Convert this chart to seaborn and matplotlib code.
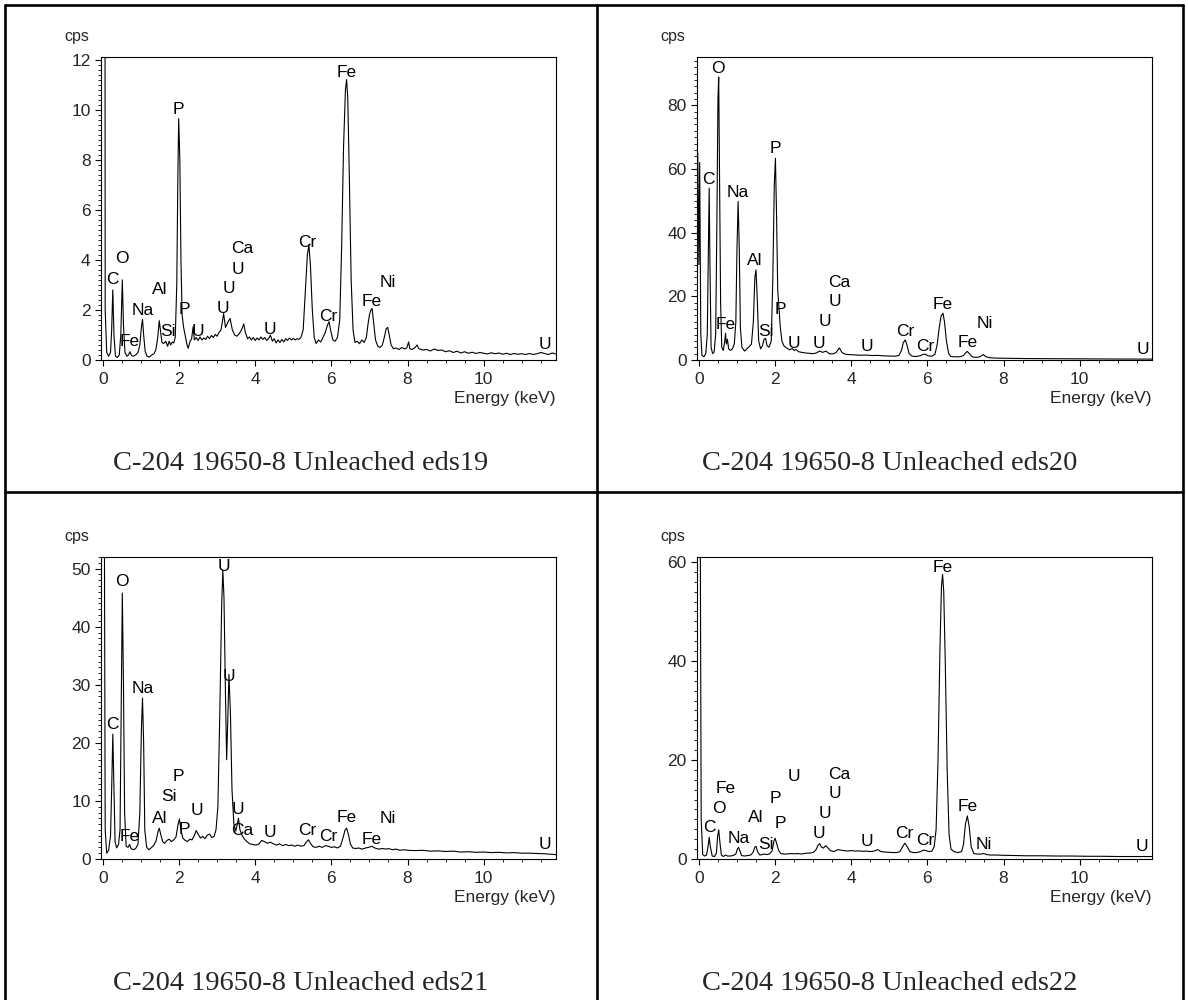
import matplotlib
matplotlib.use('Agg')
import matplotlib.pyplot as plt
import seaborn as sns
import pandas as pd
from matplotlib.lines import Line2D
from matplotlib.ticker import MultipleLocator

# spectra: (energy keV, cps)
spec19 = [
    (-0.05, 0.5), (-0.035, 60), (0.04, 60), (0.06, 2.0), (0.1, 0.3), (0.15, 0.15), (0.2, 0.3),
    (0.23, 1.2), (0.26, 2.8), (0.29, 1.0), (0.33, 0.15), (0.38, 0.1), (0.43, 0.2), (0.47, 1.0),
    (0.51, 3.2), (0.54, 1.4), (0.58, 0.3), (0.63, 0.15), (0.67, 0.2), (0.71, 0.33), (0.75, 0.18),
    (0.8, 0.15), (0.86, 0.2), (0.92, 0.3), (0.97, 0.6), (1.01, 1.3), (1.04, 1.62), (1.07, 1.0),
    (1.11, 0.35), (1.16, 0.15), (1.22, 0.12), (1.28, 0.2), (1.34, 0.25), (1.39, 0.4), (1.44, 0.9),
    (1.48, 1.57), (1.51, 1.2), (1.55, 0.7), (1.6, 0.66), (1.65, 0.75), (1.7, 0.55), (1.74, 0.75),
    (1.78, 0.6), (1.82, 0.72), (1.86, 0.68), (1.9, 0.9), (1.94, 3.0), (1.97, 7.5), (1.99, 9.64),
    (2.02, 8.0), (2.05, 4.0), (2.08, 1.8), (2.12, 1.3), (2.17, 0.9), (2.21, 0.6), (2.24, 0.47),
    (2.29, 0.75), (2.33, 0.85), (2.37, 1.33), (2.4, 0.8), (2.45, 0.9), (2.5, 0.78), (2.55, 0.92),
    (2.6, 0.8), (2.65, 0.88), (2.7, 0.82), (2.75, 0.95), (2.8, 0.85), (2.85, 0.98), (2.9, 0.9),
    (2.95, 1.02), (3.0, 0.95), (3.05, 1.1), (3.1, 1.2), (3.13, 1.45), (3.17, 1.86), (3.22, 1.3),
    (3.28, 1.5), (3.34, 1.66), (3.4, 1.2), (3.46, 1.0), (3.52, 0.95), (3.58, 1.05), (3.64, 1.2),
    (3.7, 1.44), (3.74, 1.1), (3.8, 0.85), (3.85, 0.92), (3.9, 0.8), (3.95, 0.9), (4.0, 0.78),
    (4.05, 0.88), (4.1, 0.8), (4.15, 0.92), (4.2, 0.82), (4.25, 0.9), (4.3, 0.78), (4.35, 0.85),
    (4.4, 1.0), (4.45, 0.75), (4.5, 0.85), (4.55, 0.68), (4.6, 0.8), (4.65, 0.7), (4.7, 0.82),
    (4.75, 0.72), (4.8, 0.85), (4.85, 0.78), (4.9, 0.88), (4.95, 0.8), (5.0, 0.86), (5.05, 0.8),
    (5.1, 0.85), (5.15, 0.82), (5.2, 0.9), (5.26, 1.2), (5.32, 2.8), (5.37, 4.2), (5.41, 4.6),
    (5.45, 3.8), (5.5, 2.0), (5.55, 0.9), (5.6, 0.66), (5.66, 0.8), (5.72, 0.72), (5.78, 0.9),
    (5.84, 1.1), (5.9, 1.4), (5.94, 1.53), (5.98, 1.2), (6.04, 0.8), (6.1, 0.75), (6.16, 0.9),
    (6.22, 1.6), (6.27, 4.5), (6.32, 8.5), (6.37, 10.8), (6.4, 11.2), (6.43, 10.5), (6.47, 7.5),
    (6.52, 3.2), (6.57, 1.2), (6.62, 0.7), (6.68, 0.75), (6.74, 0.65), (6.8, 0.8), (6.86, 0.7),
    (6.92, 0.9), (6.96, 1.4), (7.0, 1.8), (7.04, 2.0), (7.07, 2.06), (7.11, 1.5), (7.16, 0.8),
    (7.22, 0.55), (7.28, 0.5), (7.34, 0.6), (7.39, 0.9), (7.44, 1.25), (7.48, 1.3), (7.52, 1.0),
    (7.57, 0.6), (7.63, 0.45), (7.7, 0.48), (7.78, 0.42), (7.85, 0.5), (7.92, 0.44), (7.98, 0.48),
    (8.03, 0.72), (8.06, 0.45), (8.12, 0.42), (8.2, 0.5), (8.25, 0.6), (8.3, 0.45), (8.4, 0.4),
    (8.5, 0.42), (8.6, 0.36), (8.7, 0.44), (8.8, 0.38), (8.9, 0.4), (9.0, 0.33), (9.1, 0.37),
    (9.2, 0.3), (9.3, 0.35), (9.4, 0.28), (9.5, 0.33), (9.6, 0.27), (9.7, 0.31), (9.8, 0.26),
    (9.9, 0.3), (10.0, 0.27), (10.1, 0.24), (10.2, 0.29), (10.3, 0.25), (10.4, 0.28), (10.5, 0.23),
    (10.6, 0.27), (10.7, 0.22), (10.8, 0.26), (10.9, 0.23), (11.0, 0.25), (11.1, 0.22), (11.2, 0.26),
    (11.3, 0.22), (11.4, 0.25), (11.5, 0.3), (11.6, 0.26), (11.7, 0.22), (11.8, 0.28), (11.9, 0.24),
]

spec20 = [
    (-0.05, 8), (-0.03, 65), (0.0, 30), (0.02, 62), (0.05, 8), (0.08, 1.5), (0.13, 1.0), (0.18, 2),
    (0.22, 8), (0.25, 35), (0.27, 54), (0.29, 30), (0.32, 4), (0.36, 2), (0.4, 2.5), (0.44, 8),
    (0.47, 40), (0.5, 82), (0.52, 88.9), (0.54, 60), (0.57, 18), (0.6, 4), (0.64, 3), (0.68, 6),
    (0.7, 8.4), (0.72, 5), (0.75, 6.5), (0.78, 3.5), (0.83, 3), (0.88, 3.5), (0.93, 5), (0.97, 12),
    (1.0, 35), (1.03, 49.8), (1.06, 35), (1.09, 10), (1.13, 4), (1.2, 2.8), (1.26, 3.5), (1.32, 4.2),
    (1.38, 5), (1.43, 12), (1.47, 26), (1.5, 28.3), (1.53, 20), (1.57, 6), (1.62, 3.5), (1.67, 4.5),
    (1.71, 6.5), (1.75, 6.8), (1.79, 4.5), (1.84, 4), (1.9, 6), (1.94, 25), (1.98, 55), (2.01, 63.4),
    (2.04, 45), (2.07, 22), (2.1, 17), (2.14, 10), (2.18, 6), (2.23, 4.5), (2.3, 3.8), (2.38, 3.2),
    (2.45, 3.6), (2.5, 3.0), (2.55, 3.3), (2.62, 2.6), (2.7, 2.4), (2.8, 2.2), (2.9, 2.1), (3.0, 2.0),
    (3.08, 2.2), (3.17, 2.8), (3.25, 2.4), (3.34, 2.8), (3.42, 2.0), (3.5, 1.9), (3.6, 2.3),
    (3.69, 3.8), (3.76, 2.3), (3.85, 1.8), (3.95, 1.7), (4.1, 1.6), (4.25, 1.5), (4.4, 1.55),
    (4.55, 1.4), (4.7, 1.45), (4.85, 1.3), (5.0, 1.25), (5.15, 1.2), (5.25, 1.4), (5.32, 3.0),
    (5.37, 5.5), (5.42, 6.3), (5.47, 4.5), (5.52, 2.0), (5.6, 1.2), (5.7, 1.1), (5.8, 1.3),
    (5.9, 1.8), (5.95, 1.8), (6.02, 1.3), (6.12, 1.2), (6.2, 1.8), (6.26, 5), (6.31, 10),
    (6.36, 13.8), (6.41, 14.7), (6.45, 12), (6.5, 6), (6.56, 2), (6.62, 1.1), (6.72, 1.0),
    (6.85, 1.0), (6.95, 1.4), (7.0, 2.2), (7.05, 2.7), (7.1, 2.0), (7.18, 1.0), (7.28, 0.8),
    (7.38, 1.0), (7.47, 1.7), (7.54, 1.0), (7.65, 0.7), (7.8, 0.6), (8.0, 0.55), (8.3, 0.5),
    (8.6, 0.45), (9.0, 0.42), (9.4, 0.38), (9.8, 0.35), (10.2, 0.33), (10.6, 0.3), (11.0, 0.3),
    (11.4, 0.28), (11.9, 0.28),
]

spec21 = [
    (-0.05, 1), (-0.035, 80), (0.03, 80), (0.06, 5), (0.1, 1.0), (0.15, 1.5), (0.2, 4), (0.23, 12),
    (0.26, 21.5), (0.29, 12), (0.32, 3), (0.36, 1.9), (0.41, 2.5), (0.45, 5), (0.48, 25),
    (0.51, 45.8), (0.54, 30), (0.57, 8), (0.61, 2.2), (0.66, 2.0), (0.7, 2.5), (0.74, 1.8),
    (0.8, 1.6), (0.86, 1.8), (0.92, 2.5), (0.97, 8), (1.01, 22), (1.04, 27.7), (1.07, 20), (1.1, 5),
    (1.15, 2), (1.21, 1.6), (1.28, 2.0), (1.34, 2.4), (1.4, 3.2), (1.45, 4.8), (1.48, 5.3),
    (1.52, 4.2), (1.57, 3.0), (1.62, 2.7), (1.68, 3.2), (1.74, 3.4), (1.8, 3.0), (1.86, 3.3),
    (1.92, 3.8), (1.97, 5.8), (2.01, 6.9), (2.05, 5.0), (2.1, 3.6), (2.16, 3.2), (2.22, 3.0),
    (2.28, 3.4), (2.34, 3.3), (2.4, 4.0), (2.45, 4.9), (2.5, 4.3), (2.56, 3.6), (2.62, 3.9),
    (2.68, 3.5), (2.74, 4.1), (2.8, 4.3), (2.86, 3.7), (2.92, 3.9), (2.97, 5.0), (3.02, 9),
    (3.07, 25), (3.12, 44), (3.15, 49.7), (3.18, 45), (3.22, 28), (3.25, 17.1), (3.28, 24),
    (3.31, 31.8), (3.35, 25), (3.39, 12), (3.44, 6), (3.49, 4.8), (3.53, 6.0), (3.56, 7.0),
    (3.6, 5.0), (3.66, 4.0), (3.72, 3.4), (3.78, 3.0), (3.86, 2.6), (3.94, 2.5), (4.02, 2.4),
    (4.1, 2.6), (4.17, 3.2), (4.24, 3.0), (4.32, 2.7), (4.4, 2.9), (4.48, 2.6), (4.56, 2.4),
    (4.64, 2.6), (4.72, 2.3), (4.8, 2.5), (4.88, 2.3), (4.96, 2.4), (5.04, 2.2), (5.12, 2.4),
    (5.2, 2.2), (5.28, 2.3), (5.34, 2.9), (5.4, 3.3), (5.46, 2.6), (5.52, 2.1), (5.6, 2.0),
    (5.68, 2.2), (5.76, 2.0), (5.84, 2.3), (5.92, 2.2), (6.0, 2.0), (6.08, 2.1), (6.16, 1.9),
    (6.24, 2.2), (6.3, 3.5), (6.36, 5.0), (6.4, 5.3), (6.45, 4.2), (6.5, 2.6), (6.56, 1.9),
    (6.64, 1.8), (6.72, 1.9), (6.8, 1.7), (6.9, 1.9), (6.98, 2.0), (7.06, 2.2), (7.14, 1.9),
    (7.24, 1.7), (7.34, 1.8), (7.44, 1.7), (7.5, 1.8), (7.6, 1.6), (7.7, 1.7), (7.8, 1.5),
    (7.9, 1.6), (8.0, 1.5), (8.2, 1.45), (8.4, 1.5), (8.6, 1.35), (8.8, 1.4), (9.0, 1.3),
    (9.2, 1.35), (9.4, 1.2), (9.6, 1.25), (9.8, 1.15), (10.0, 1.2), (10.2, 1.1), (10.4, 1.15),
    (10.6, 1.05), (10.8, 1.1), (11.0, 1.0), (11.2, 1.0), (11.4, 0.95), (11.6, 0.9), (11.8, 0.8),
    (11.9, 0.75),
]

spec22 = [
    (-0.05, 1), (-0.035, 80), (0.03, 80), (0.06, 8), (0.1, 0.9), (0.15, 0.6), (0.2, 0.8),
    (0.24, 2.5), (0.27, 4.4), (0.3, 2.5), (0.35, 0.6), (0.41, 0.5), (0.46, 1.2), (0.49, 4.5),
    (0.52, 5.9), (0.55, 3.5), (0.59, 0.8), (0.64, 0.5), (0.7, 0.8), (0.75, 0.6), (0.82, 0.6),
    (0.9, 0.7), (0.97, 1.0), (1.01, 2.0), (1.04, 2.35), (1.07, 1.8), (1.12, 0.7), (1.2, 0.6),
    (1.28, 0.7), (1.36, 0.8), (1.42, 1.3), (1.47, 2.4), (1.5, 2.55), (1.54, 1.5), (1.6, 0.8),
    (1.66, 0.9), (1.72, 1.0), (1.78, 0.9), (1.85, 1.0), (1.92, 1.6), (1.97, 3.6), (2.0, 4.2),
    (2.04, 3.2), (2.09, 1.8), (2.15, 1.1), (2.22, 1.0), (2.3, 1.0), (2.4, 1.1), (2.5, 1.05),
    (2.6, 1.1), (2.7, 1.0), (2.8, 1.15), (2.9, 1.2), (3.0, 1.3), (3.07, 1.8), (3.13, 2.8),
    (3.17, 3.1), (3.22, 2.4), (3.27, 2.2), (3.33, 2.7), (3.38, 2.3), (3.45, 1.7), (3.55, 1.5),
    (3.65, 1.9), (3.72, 1.8), (3.8, 1.7), (3.9, 1.6), (4.0, 1.7), (4.1, 1.6), (4.2, 1.65),
    (4.3, 1.55), (4.4, 1.6), (4.5, 1.5), (4.6, 1.6), (4.7, 1.9), (4.78, 1.5), (4.9, 1.4),
    (5.0, 1.35), (5.1, 1.3), (5.2, 1.3), (5.28, 1.5), (5.35, 2.5), (5.41, 3.2), (5.47, 2.5),
    (5.54, 1.5), (5.62, 1.3), (5.72, 1.3), (5.82, 1.5), (5.9, 1.8), (5.96, 1.7), (6.04, 1.5),
    (6.12, 1.6), (6.18, 2.5), (6.23, 6), (6.28, 20), (6.33, 42), (6.37, 55), (6.4, 57.5),
    (6.43, 54), (6.47, 40), (6.52, 18), (6.57, 5), (6.62, 2), (6.7, 1.5), (6.8, 1.3), (6.9, 1.5),
    (6.95, 3), (7.0, 7), (7.05, 8.7), (7.1, 6.5), (7.15, 2.5), (7.22, 1.1), (7.3, 1.0), (7.4, 1.0),
    (7.48, 1.1), (7.56, 0.9), (7.65, 0.8), (7.8, 0.8), (8.0, 0.75), (8.3, 0.7), (8.6, 0.65),
    (9.0, 0.65), (9.4, 0.6), (9.8, 0.6), (10.2, 0.55), (10.6, 0.55), (11.0, 0.5), (11.4, 0.5),
    (11.9, 0.5),
]

# peak labels: (element, energy, cps)
labels19 = [
    ("C", 0.26, 3.2), ("O", 0.51, 4.05), ("Fe", 0.71, 0.73), ("Na", 1.04, 1.97), ("Al", 1.48, 2.8),
    ("Si", 1.72, 1.13), ("P", 1.99, 10.0), ("P", 2.15, 2.0), ("U", 2.49, 1.13), ("U", 3.15, 2.06),
    ("U", 3.31, 2.85), ("U", 3.55, 3.6), ("Ca", 3.67, 4.45), ("U", 4.40, 1.22), ("Cr", 5.38, 4.7),
    ("Cr", 5.92, 1.75), ("Fe", 6.41, 11.5), ("Fe", 7.06, 2.33), ("Ni", 7.48, 3.08), ("U", 11.6, 0.6),
]
labels20 = [
    ("O", 0.51, 91.7), ("C", 0.25, 56.6), ("Na", 1.03, 52.6), ("P", 2.01, 66.4), ("Al", 1.47, 31.4),
    ("Fe", 0.70, 11.3), ("Si", 1.75, 9.1), ("P", 2.15, 15.9), ("U", 2.49, 5.2), ("U", 3.15, 5.2),
    ("U", 3.31, 12.1), ("U", 3.57, 18.3), ("Ca", 3.68, 24.3), ("U", 4.41, 4.2), ("Cr", 5.41, 8.9),
    ("Cr", 5.95, 4.2), ("Fe", 6.41, 17.3), ("Fe", 7.07, 5.5), ("Ni", 7.51, 11.5), ("U", 11.65, 3.4),
]
labels21 = [
    ("U", 3.17, 50.4), ("O", 0.51, 47.7), ("Na", 1.04, 29.4), ("U", 3.31, 31.5), ("C", 0.25, 23.2),
    ("P", 1.99, 14.2), ("Si", 1.74, 10.7), ("U", 2.48, 8.3), ("U", 3.55, 8.6), ("Al", 1.48, 7.0),
    ("Fe", 0.71, 3.9), ("P", 2.15, 5.0), ("Ca", 3.67, 4.9), ("U", 4.40, 4.5), ("Cr", 5.38, 4.9),
    ("Cr", 5.92, 3.9), ("Fe", 6.40, 7.2), ("Fe", 7.06, 3.3), ("Ni", 7.48, 6.9), ("U", 11.6, 2.5),
]
labels22 = [
    ("Fe", 6.40, 58.9), ("Fe", 7.06, 10.6), ("U", 2.50, 16.7), ("Ca", 3.68, 17.0), ("Fe", 0.70, 14.3),
    ("P", 2.01, 12.3), ("U", 3.57, 13.2), ("O", 0.52, 10.3), ("Al", 1.48, 8.4), ("U", 3.32, 9.1),
    ("P", 2.14, 7.1), ("C", 0.27, 6.3), ("Na", 1.05, 4.2), ("Si", 1.75, 2.9), ("U", 3.16, 5.1),
    ("U", 4.41, 3.6), ("Cr", 5.40, 5.1), ("Cr", 5.94, 3.8), ("Ni", 7.49, 2.9), ("U", 11.64, 2.6),
]

captions = ["C-204 19650-8 Unleached eds19", "C-204 19650-8 Unleached eds20",
            "C-204 19650-8 Unleached eds21", "C-204 19650-8 Unleached eds22"]
y_tops = [12.1, 95.2, 52.0, 61.0]
y_major = [2, 20, 10, 20]
y_minor = [0.2, 2, 1, 2]

sns.set_style('ticks')
plt.rcParams['font.family'] = ['Liberation Sans', 'DejaVu Sans']

W, H = 1188, 1000
fig = plt.figure(figsize=(W / 100, H / 100), dpi=100)

# panel boxes in pixels: left, top, right, bottom
boxes = [(101, 57, 556, 360), (697, 57, 1152, 360), (101, 557, 556, 859), (697, 557, 1152, 859)]
caption_pos = [(301, 464), (890, 464), (301, 984), (890, 984)]

specs = [spec19, spec20, spec21, spec22]
labels = [labels19, labels20, labels21, labels22]

for i in range(4):
    l, t, r, b = boxes[i]
    ax = fig.add_axes([l / W, 1 - b / H, (r - l) / W, (b - t) / H])
    df = pd.DataFrame(specs[i], columns=["Energy", "cps"])
    sns.lineplot(data=df, x="Energy", y="cps", ax=ax, color="black", linewidth=0.8,
                 estimator=None, sort=False)
    ax.set_xlim(-0.05, 11.9)
    ax.set_ylim(0, y_tops[i])
    ax.set_xlabel("")
    ax.set_ylabel("")
    ax.xaxis.set_major_locator(MultipleLocator(2))
    ax.xaxis.set_minor_locator(MultipleLocator(0.5))
    ax.yaxis.set_major_locator(MultipleLocator(y_major[i]))
    ax.yaxis.set_minor_locator(MultipleLocator(y_minor[i]))
    ax.tick_params(axis='both', which='major', direction='out', length=4.5, width=0.8,
                   labelsize=12.5, pad=3, color='black')
    ax.tick_params(axis='both', which='minor', direction='out', length=2.5, width=0.6, color='black')
    ax.tick_params(axis='x', which='major', pad=4)
    for s in ax.spines.values():
        s.set_linewidth(0.8)
        s.set_color('black')
        s.set_visible(True)
    for name, e, c in labels[i]:
        ax.text(e, c, name, ha='center', va='center', fontsize=12.5, color='black', clip_on=False)
    ax.annotate("cps", xy=(0, 1), xycoords='axes fraction', xytext=(-17.5, 14.5),
                textcoords='offset points', ha='center', va='center', fontsize=11.5)
    ax.annotate("Energy (keV)", xy=(1, 0), xycoords='axes fraction', xytext=(0, -27.5),
                textcoords='offset points', ha='right', va='center', fontsize=12.5)
    cx, cy = caption_pos[i]
    fig.text(cx / W, 1 - cy / H, captions[i], ha='center', va='center', fontsize=20.5,
             family=['Liberation Serif', 'DejaVu Serif'])

# table borders
border = dict(color='black', linewidth=1.9, transform=fig.transFigure)
for x0, y0, x1, y1 in [(5, 5, 1183, 5), (5, 5, 5, 1000), (1183, 5, 1183, 1000),
                       (597, 5, 597, 1000), (5, 492, 1183, 492)]:
    fig.add_artist(Line2D([x0 / W, x1 / W], [1 - y0 / H, 1 - y1 / H], **border))

fig.savefig("out.png", dpi=100)
